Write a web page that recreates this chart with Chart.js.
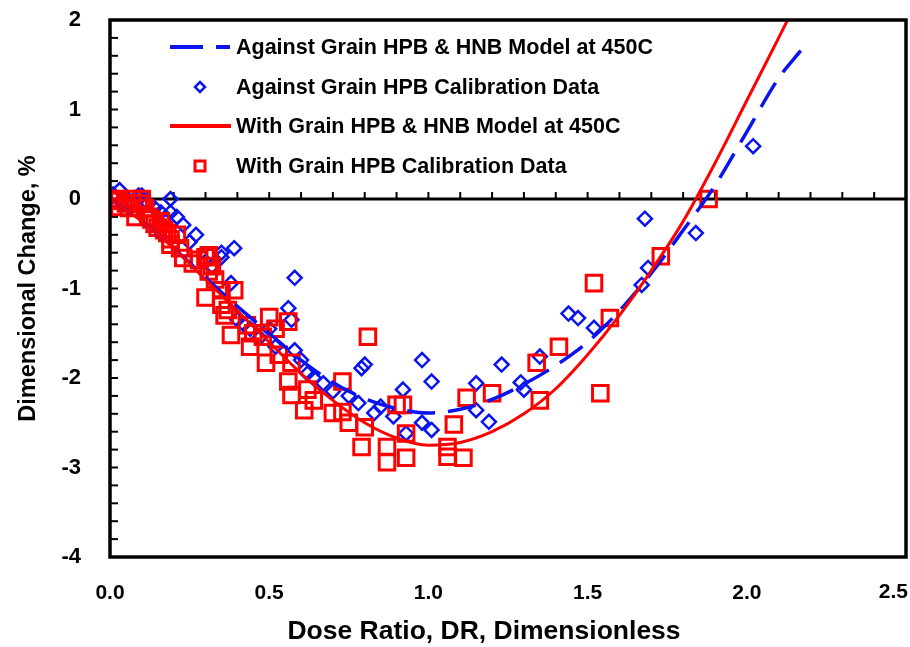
<!DOCTYPE html>
<html>
<head>
<meta charset="utf-8">
<script src="https://cdn.jsdelivr.net/npm/chart.js@4.4.1/dist/chart.umd.min.js"></script>
<style>
  html, body { margin: 0; padding: 0; background: #fff; }
  #wrap { width: 910px; height: 647px; }
</style>
</head>
<body>
<div id="wrap"><canvas id="chart"></canvas></div>
<script>
// model curves
const modelDR = [0, 0.1, 0.2, 0.3, 0.4, 0.5, 0.6, 0.7, 0.8, 0.9, 1.0, 1.1, 1.2, 1.3, 1.4, 1.5, 1.6, 1.7, 1.8, 1.9, 2.0, 2.1, 2.17];
const againstModel = [0, -0.25, -0.55, -0.88, -1.2, -1.5, -1.8, -2.05, -2.23, -2.34, -2.39, -2.35, -2.24, -2.07, -1.86, -1.6, -1.25, -0.83, -0.35, 0.15, 0.75, 1.35, 1.66];
const withModel = [0, -0.25, -0.55, -0.9, -1.25, -1.6, -1.95, -2.25, -2.5, -2.67, -2.75, -2.72, -2.6, -2.4, -2.12, -1.74, -1.3, -0.8, -0.25, 0.4, 1.1, 1.8, 2.3];

// calibration data
const againstDR = [0.01, 0.03, 0.05, 0.07, 0.09, 0.10, 0.12, 0.14, 0.16, 0.19, 0.19, 0.21, 0.23, 0.25, 0.27, 0.30, 0.32, 0.35, 0.35, 0.38, 0.39, 0.40, 0.42, 0.44, 0.47, 0.50, 0.52, 0.56, 0.57, 0.58, 0.58, 0.60, 0.62, 0.64, 0.67, 0.70, 0.75, 0.78, 0.79, 0.80, 0.83, 0.85, 0.89, 0.92, 0.93, 0.98, 0.98, 1.01, 1.01, 1.15, 1.15, 1.19, 1.23, 1.29, 1.30, 1.35, 1.44, 1.47, 1.52, 1.67, 1.69, 1.68, 1.84, 2.02];
const againstDC = [0.05, 0.10, 0.02, -0.03, 0.04, 0.04, -0.05, -0.10, -0.15, 0.00, -0.15, -0.20, -0.29, -0.48, -0.40, -0.70, -0.75, -0.60, -0.65, -0.94, -0.55, -1.35, -1.40, -1.45, -1.55, -1.45, -1.65, -1.22, -1.35, -0.88, -1.69, -1.80, -1.95, -2.00, -2.06, -2.15, -2.20, -2.28, -1.89, -1.85, -2.39, -2.32, -2.43, -2.13, -2.62, -1.80, -2.50, -2.04, -2.58, -2.06, -2.36, -2.49, -1.85, -2.05, -2.13, -1.76, -1.28, -1.33, -1.44, -0.96, -0.77, -0.22, -0.38, 0.59];

const withDR = [0.00, 0.01, 0.03, 0.03, 0.05, 0.06, 0.07, 0.08, 0.09, 0.10, 0.11, 0.12, 0.13, 0.14, 0.15, 0.16, 0.17, 0.18, 0.19, 0.19, 0.21, 0.22, 0.23, 0.26, 0.28, 0.30, 0.31, 0.31, 0.30, 0.32, 0.33, 0.35, 0.35, 0.36, 0.37, 0.38, 0.39, 0.43, 0.44, 0.45, 0.48, 0.49, 0.50, 0.52, 0.53, 0.56, 0.56, 0.57, 0.57, 0.61, 0.62, 0.64, 0.70, 0.73, 0.73, 0.75, 0.79, 0.81, 0.80, 0.87, 0.87, 0.90, 0.92, 0.93, 0.93, 1.06, 1.06, 1.08, 1.11, 1.12, 1.20, 1.34, 1.35, 1.41, 1.52, 1.54, 1.57, 1.73, 1.88];
const withDC = [0.00, -0.02, 0.00, -0.09, -0.05, -0.10, 0.00, -0.20, -0.05, 0.00, -0.10, -0.20, -0.23, -0.28, -0.32, -0.25, -0.35, -0.38, -0.45, -0.51, -0.40, -0.55, -0.66, -0.72, -0.68, -0.65, -0.81, -0.63, -1.10, -0.75, -0.90, -1.02, -1.18, -1.30, -1.24, -1.52, -1.02, -1.41, -1.65, -1.50, -1.54, -1.83, -1.32, -1.45, -1.74, -1.37, -2.04, -1.83, -2.19, -2.36, -2.13, -2.25, -2.39, -2.04, -2.38, -2.50, -2.77, -1.54, -2.55, -2.77, -2.94, -2.30, -2.30, -2.62, -2.89, -2.77, -2.88, -2.52, -2.89, -2.22, -2.17, -1.83, -2.25, -1.65, -0.94, -2.17, -1.33, -0.64, 0.00];

const xTicks = [0, 0.5, 1.0, 1.5, 2.0, 2.5];
const yTicks = [-4, -3, -2, -1, 0, 1, 2];
const xTitle = 'Dose Ratio, DR, Dimensionless';

const BLUE = '#0a14f0';
const RED = '#ff0000';
const FONT = 'Liberation Sans, Arial, sans-serif';
const X_MAX = xTicks[xTicks.length - 1];

const pts = (xs, ys) => xs.map((x, i) => ({ x: x, y: ys[i] }));

// frame, zero line, minor ticks, x title and in-plot legend
const framePlugin = {
  id: 'frame',
  beforeDatasetsDraw(chart) {
    const { ctx, chartArea: a, scales: { x, y } } = chart;
    const y0 = y.getPixelForValue(0);
    ctx.save();
    ctx.strokeStyle = '#000';
    ctx.lineWidth = 3;
    ctx.beginPath();
    ctx.moveTo(a.left, y0);
    ctx.lineTo(a.right, y0);
    ctx.stroke();
    ctx.lineWidth = 2;
    for (let i = 1; i < 25; i++) {
      const px = x.getPixelForValue(i / 10);
      ctx.beginPath();
      ctx.moveTo(px, y0);
      ctx.lineTo(px, y0 - 7);
      ctx.stroke();
    }
    for (let i = 1; i < 30; i++) {
      const py = y.getPixelForValue(-4 + i * 0.2);
      ctx.beginPath();
      ctx.moveTo(a.left, py);
      ctx.lineTo(a.left + 8, py);
      ctx.stroke();
    }
    ctx.restore();
  },
  afterDraw(chart) {
    const { ctx, chartArea: a } = chart;
    ctx.save();
    ctx.strokeStyle = '#000';
    ctx.lineWidth = 3.5;
    ctx.strokeRect(a.left, a.top, a.right - a.left, a.bottom - a.top);

    // last x label is pulled inside the canvas, as in the original
    ctx.fillStyle = '#000';
    ctx.font = 'bold 21px ' + FONT;
    ctx.textAlign = 'right';
    ctx.textBaseline = 'middle';
    ctx.fillText(X_MAX.toFixed(1), 908, a.bottom + 35);

    // x axis title sits a little left of the plot centre in the original
    ctx.font = 'bold 26.5px ' + FONT;
    ctx.textAlign = 'center';
    ctx.fillText(xTitle, 484, 632);

    const rows = chart.data.datasets.slice().sort((p, q) => p.legendIndex - q.legendIndex);
    const rowY = [47, 87, 126, 166];
    ctx.font = 'bold 21.5px ' + FONT;
    ctx.textAlign = 'left';
    rows.forEach((ds, i) => {
      const yy = rowY[i];
      ctx.strokeStyle = ds.borderColor;
      if (ds.showLine) {
        ctx.lineWidth = 4;
        ctx.beginPath();
        if (ds.borderDash) {
          ctx.moveTo(170, yy); ctx.lineTo(203, yy);
          ctx.moveTo(216, yy); ctx.lineTo(230, yy);
        } else {
          ctx.moveTo(170, yy); ctx.lineTo(231, yy);
        }
        ctx.stroke();
      } else if (ds.pointStyle === 'rectRot') {
        ctx.lineWidth = 2.5;
        ctx.beginPath();
        ctx.moveTo(200, yy - 5); ctx.lineTo(205, yy); ctx.lineTo(200, yy + 5); ctx.lineTo(195, yy); ctx.closePath();
        ctx.stroke();
      } else {
        ctx.lineWidth = 3;
        ctx.strokeRect(195, yy - 5, 10, 10);
      }
      ctx.fillText(ds.label, 236, yy + 1);
    });
    ctx.restore();
  }
};

new Chart(document.getElementById('chart'), {
  type: 'scatter',
  data: {
    datasets: [
      {
        label: 'With Grain HPB & HNB Model at 450C',
        legendIndex: 2,
        data: pts(modelDR, withModel),
        showLine: true,
        borderColor: RED,
        borderWidth: 3,
        pointRadius: 0,
        cubicInterpolationMode: 'monotone',
        order: 1
      },
      {
        label: 'Against Grain HPB & HNB Model at 450C',
        legendIndex: 0,
        data: pts(modelDR, againstModel),
        showLine: true,
        borderColor: BLUE,
        borderWidth: 3.5,
        borderDash: [28, 13],
        pointRadius: 0,
        cubicInterpolationMode: 'monotone',
        order: 2
      },
      {
        label: 'With Grain HPB Calibration Data',
        legendIndex: 3,
        data: pts(withDR, withDC),
        showLine: false,
        pointStyle: 'rect',
        pointRadius: 11,
        pointBorderWidth: 3,
        borderColor: RED,
        backgroundColor: 'rgba(0,0,0,0)',
        order: 3
      },
      {
        label: 'Against Grain HPB Calibration Data',
        legendIndex: 1,
        data: pts(againstDR, againstDC),
        showLine: false,
        pointStyle: 'rectRot',
        pointRadius: 7,
        pointBorderWidth: 2.5,
        borderColor: BLUE,
        backgroundColor: 'rgba(0,0,0,0)',
        order: 4
      }
    ]
  },
  options: {
    responsive: true,
    maintainAspectRatio: false,
    animation: false,
    layout: { autoPadding: false, padding: { top: 20, right: 4, left: 0, bottom: 0 } },
    plugins: { legend: { display: false }, tooltip: { enabled: false } },
    scales: {
      x: {
        type: 'linear',
        min: 0,
        max: X_MAX,
        afterBuildTicks: (s) => { s.ticks = xTicks.map(v => ({ value: v })); },
        afterFit: (s) => { s.height = 90; s.paddingLeft = 0; s.paddingRight = 0; },
        grid: { display: false },
        border: { display: false },
        ticks: {
          color: '#000',
          padding: 16,
          maxRotation: 0,
          font: { family: FONT, size: 21, weight: 'bold' },
          callback: (v) => (v === X_MAX ? '' : Number(v).toFixed(1))
        },
        title: { display: false }
      },
      y: {
        min: -4,
        max: 2,
        afterBuildTicks: (s) => { s.ticks = yTicks.map(v => ({ value: v })); },
        afterFit: (s) => { s.width = 110; s.paddingTop = 0; s.paddingBottom = 0; },
        grid: { display: false },
        border: { display: false },
        ticks: {
          color: '#000',
          padding: 21,
          font: { family: FONT, size: 22, weight: 'bold' }
        },
        title: {
          display: true,
          text: 'Dimensional Change, %',
          color: '#000',
          font: { family: FONT, size: 23.5, weight: 'bold' },
          padding: { top: 14, bottom: 0 }
        }
      }
    }
  },
  plugins: [framePlugin]
});
</script>
</body>
</html>
